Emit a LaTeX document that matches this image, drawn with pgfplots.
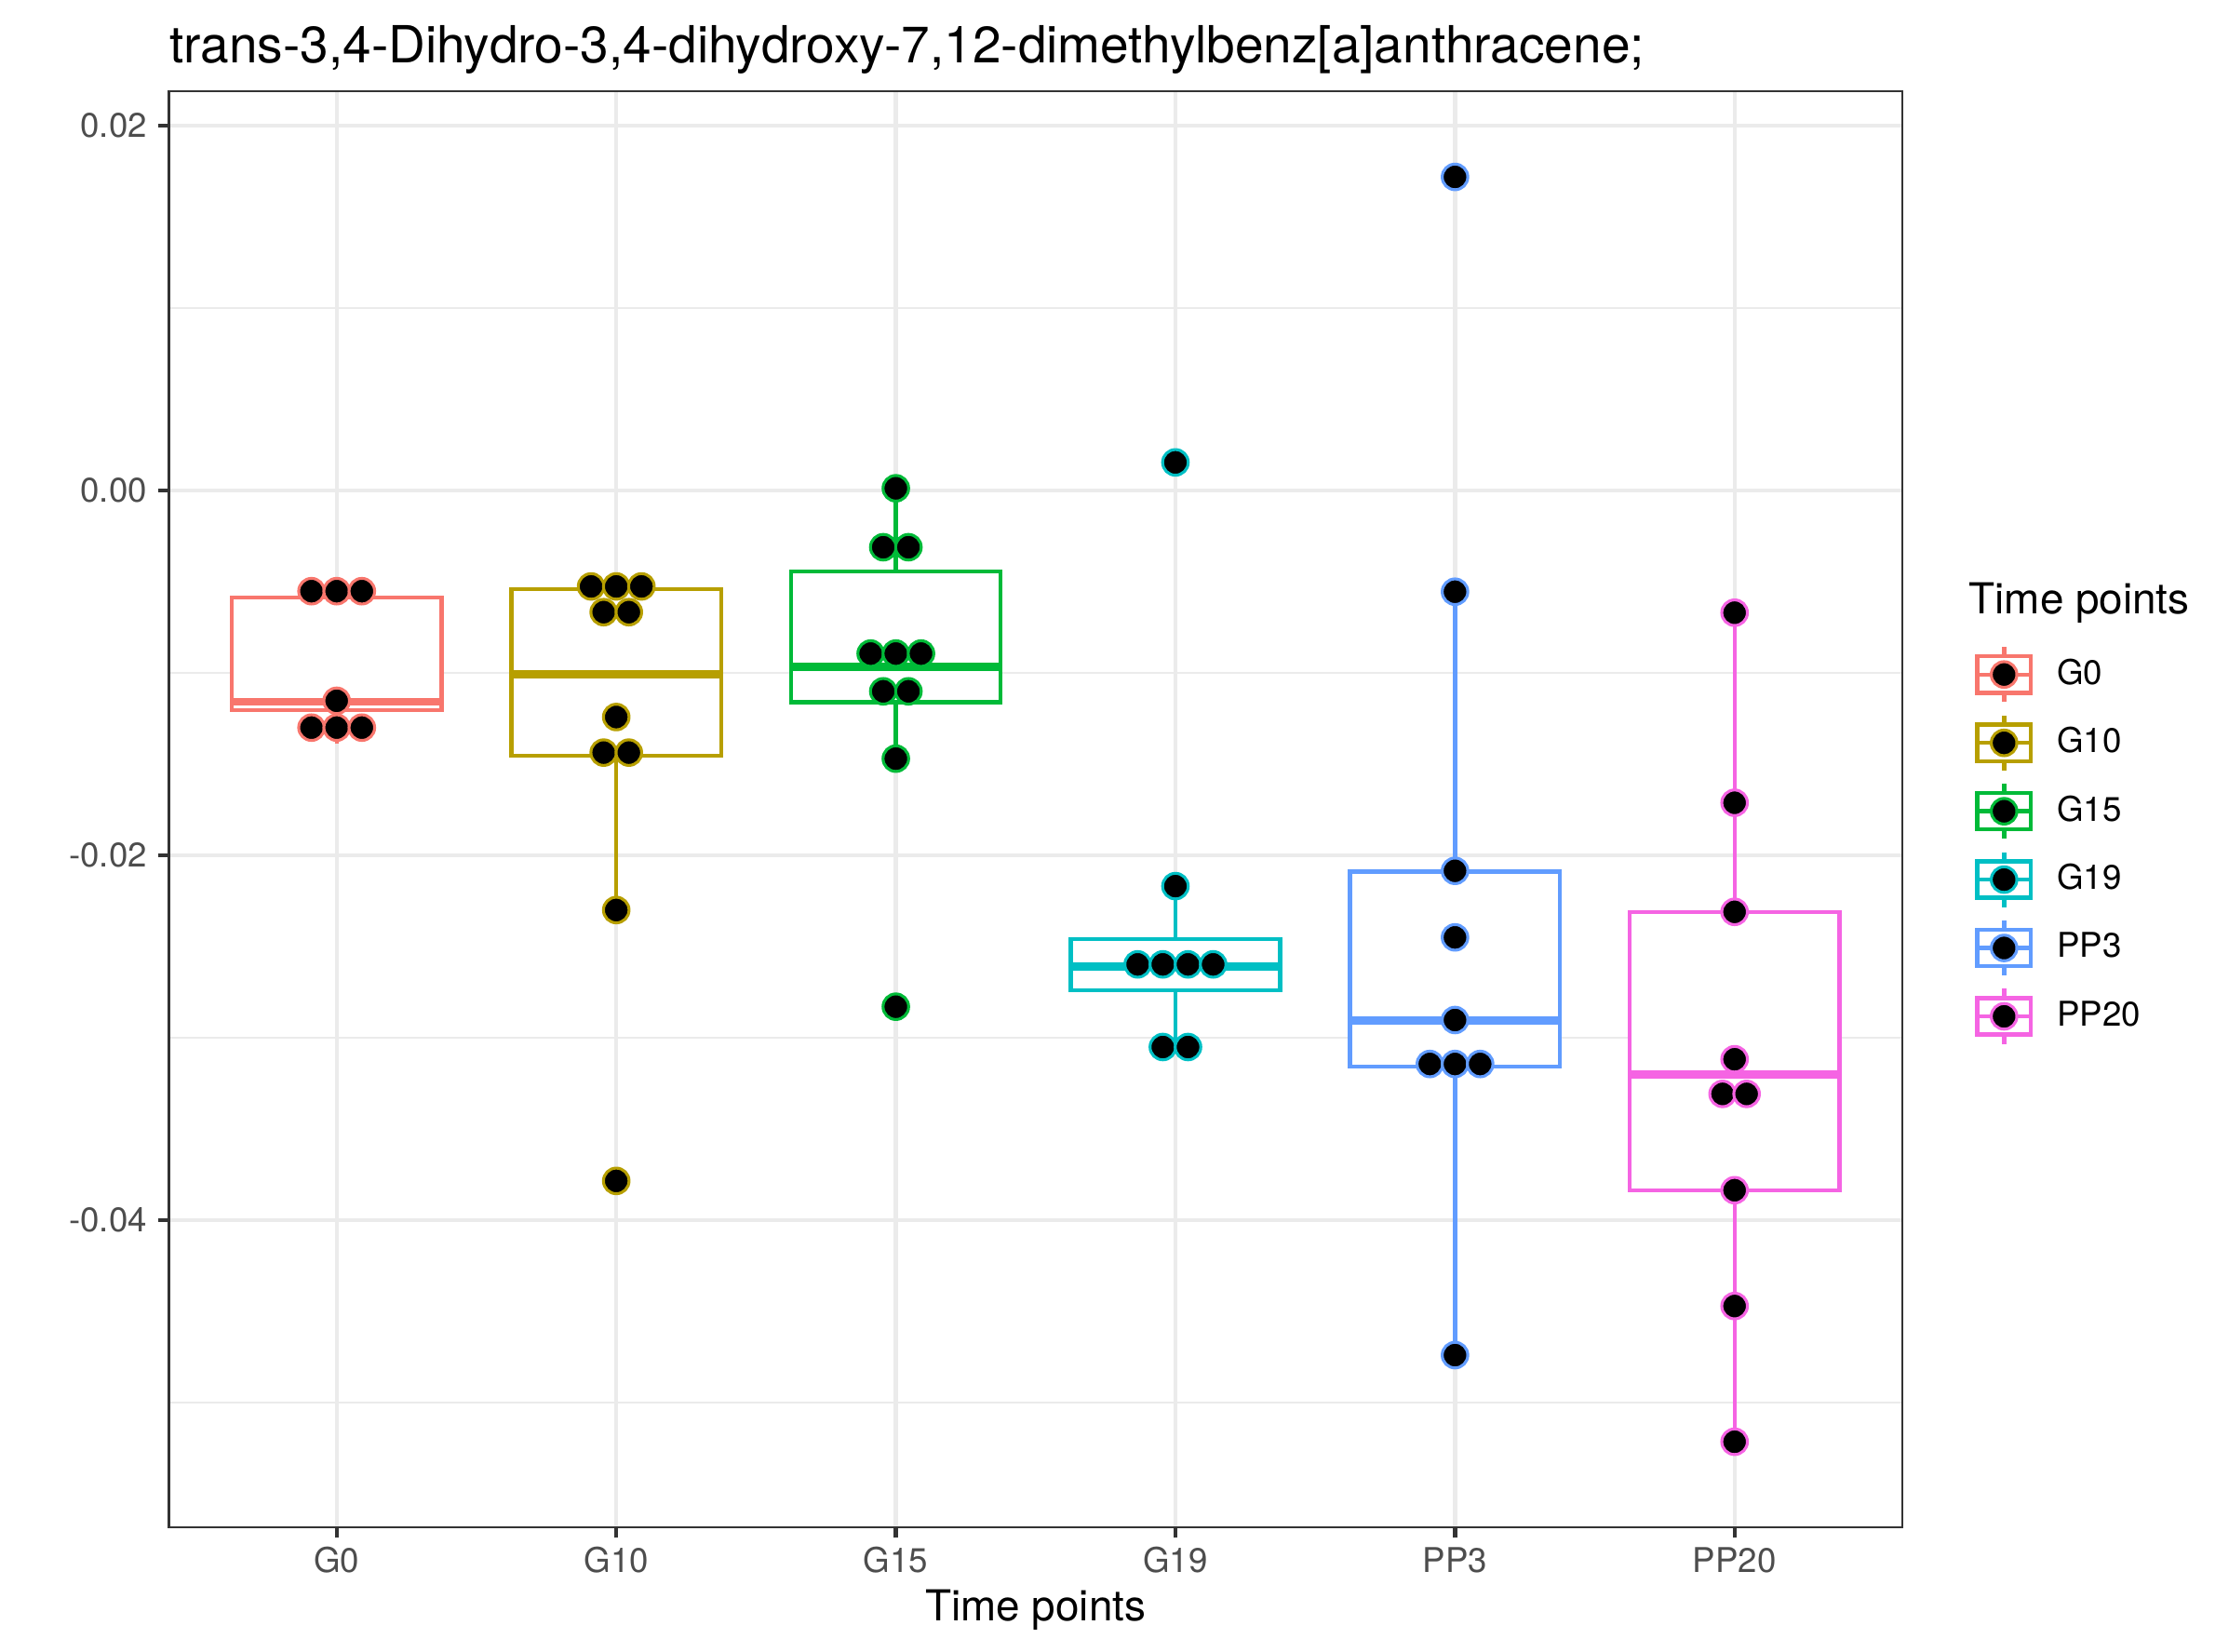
\documentclass[border=0pt]{standalone}
\usepackage{fontspec}
\setmainfont{TeX Gyre Heros}
\usepackage{pgfplots}
\pgfplotsset{compat=1.18}
\definecolor{cA}{HTML}{F8766D}
\definecolor{cB}{HTML}{B79F00}
\definecolor{cC}{HTML}{00BA38}
\definecolor{cD}{HTML}{00BFC4}
\definecolor{cE}{HTML}{619CFF}
\definecolor{cF}{HTML}{F564E3}
\definecolor{grey92}{HTML}{EBEBEB}
\definecolor{grey20}{HTML}{333333}
\definecolor{grey30}{HTML}{4D4D4D}
\pgfplotsset{
  bx/.style={forget plot, draw=#1, fill=white, line width=1.07pt, solid, mark=none, line join=miter},
  md/.style={forget plot, draw=#1, line width=2.13pt, solid, mark=none},
  wk/.style={forget plot, draw=#1, line width=1.07pt, solid, mark=none},
  dt/.style={forget plot, only marks, mark=*, mark size=3.3pt, mark options={fill=black, draw=#1, line width=0.75pt, solid}},
  legbox/.style={draw=#1, legend image code/.code={
      \path (0pt,-8.615pt) (0pt,8.615pt);
      \draw[line width=1.07pt] (6.9pt,-7.1pt) -- (6.9pt,-4.7pt) (6.9pt,4.7pt) -- (6.9pt,7.1pt);
      \draw[line width=1.07pt, fill=white] (0pt,-4.7pt) rectangle (13.8pt,4.7pt);
      \draw[line width=1.07pt] (0pt,0pt) -- (13.8pt,0pt);
      \draw[line width=0.75pt, fill=black] (6.9pt,0pt) circle (3.3pt);
  }},
}
\begin{document}
\begin{tikzpicture}
\path[use as bounding box] (-43.56pt,-31.92pt) rectangle (531.24pt,393.84pt);
\begin{axis}[
  at={(0,0)}, anchor=south west,
  scale only axis, width=447pt, height=370.32pt,
  xmin=0.4, xmax=6.6, ymin=-0.05684, ymax=0.02189,
  enlargelimits=false, clip=false,
  xtick={1,2,3,4,5,6}, xticklabels={G0,G10,G15,G19,PP3,PP20},
  ytick={-0.04,-0.02,0,0.02}, yticklabels={-0.04,-0.02,0.00,0.02},
  minor ytick={-0.05,-0.03,-0.01,0.01}, minor xtick={},
  scaled y ticks=false,
  tick pos=left, tick align=outside, major tick length=2.75pt, minor tick length=0pt,
  grid=both,
  major grid style={draw=grey92, line width=1.07pt},
  minor grid style={draw=grey92, line width=0.53pt},
  axis line style={draw=grey20, line width=0.55pt},
  major tick style={draw=grey20, line width=1.07pt},
  tick label style={font=\fontsize{8.8}{10}\selectfont, text=grey30},
  xticklabel style={anchor=base, inner sep=0pt, yshift=-8.85pt},
  yticklabel style={anchor=east, inner sep=0pt, xshift=-2.7pt},
  title={trans-3,4-Dihydro-3,4-dihydroxy-7,12-dimethylbenz[a]anthracene;},
  every axis title/.style={at={(axis description cs:0,1)}, anchor=base west, inner sep=0pt, yshift=7.2pt, font=\fontsize{13.2}{15}\selectfont},
  xlabel={Time points},
  xlabel style={at={(axis description cs:0.5,0)}, anchor=base, inner sep=0pt, yshift=-24pt, font=\fontsize{11}{13}\selectfont},
  legend style={at={(axis description cs:1,1)}, anchor=north west, xshift=18.6pt, yshift=-141.4pt,
    draw=none, fill=none, inner sep=0pt, row sep=0pt, column sep=6.2pt,
    font=\fontsize{8.8}{10}\selectfont, nodes={inner sep=0pt}},
  legend cell align=left,
]
% G0: whiskers, box, median
\addplot[wk=cA] coordinates {(1,-0.0139) (1,-0.01205)};
\addplot[wk=cA] coordinates {(1,-0.00588) (1,-0.0055)};
\addplot[bx=cA] coordinates {(0.625,-0.01205) (1.375,-0.01205) (1.375,-0.00588) (0.625,-0.00588)} -- cycle;
\addplot[md=cA] coordinates {(0.625,-0.01158) (1.375,-0.01158)};
% G10
\addplot[wk=cB] coordinates {(2,-0.0230) (2,-0.01455)};
\addplot[wk=cB] coordinates {(2,-0.00542) (2,-0.0052)};
\addplot[bx=cB] coordinates {(1.625,-0.01455) (2.375,-0.01455) (2.375,-0.00542) (1.625,-0.00542)} -- cycle;
\addplot[md=cB] coordinates {(1.625,-0.01008) (2.375,-0.01008)};
% G15
\addplot[wk=cC] coordinates {(3,-0.0147) (3,-0.01161)};
\addplot[wk=cC] coordinates {(3,-0.00445) (3,0.0001)};
\addplot[bx=cC] coordinates {(2.625,-0.01161) (3.375,-0.01161) (3.375,-0.00445) (2.625,-0.00445)} -- cycle;
\addplot[md=cC] coordinates {(2.625,-0.00967) (3.375,-0.00967)};
% G19
\addplot[wk=cD] coordinates {(4,-0.0305) (4,-0.02739)};
\addplot[wk=cD] coordinates {(4,-0.02459) (4,-0.02169)};
\addplot[bx=cD] coordinates {(3.625,-0.02739) (4.375,-0.02739) (4.375,-0.02459) (3.625,-0.02459)} -- cycle;
\addplot[md=cD] coordinates {(3.625,-0.02609) (4.375,-0.02609)};
% PP3
\addplot[wk=cE] coordinates {(5,-0.0474) (5,-0.03159)};
\addplot[wk=cE] coordinates {(5,-0.0209) (5,-0.00555)};
\addplot[bx=cE] coordinates {(4.625,-0.03159) (5.375,-0.03159) (5.375,-0.0209) (4.625,-0.0209)} -- cycle;
\addplot[md=cE] coordinates {(4.625,-0.02904) (5.375,-0.02904)};
% PP20
\addplot[wk=cF] coordinates {(6,-0.05215) (6,-0.03836)};
\addplot[wk=cF] coordinates {(6,-0.0231) (6,-0.0067)};
\addplot[bx=cF] coordinates {(5.625,-0.03836) (6.375,-0.03836) (6.375,-0.0231) (5.625,-0.0231)} -- cycle;
\addplot[md=cF] coordinates {(5.625,-0.032) (6.375,-0.032)};
% dots
\addplot[dt=cA] coordinates {(0.91,-0.00552) (1,-0.00552) (1.09,-0.00552) (1,-0.01153) (0.91,-0.013) (1,-0.013) (1.09,-0.013)};
\addplot[dt=cB] coordinates {(1.91,-0.00526) (2,-0.00526) (2.09,-0.00526) (1.955,-0.00667) (2.045,-0.00667) (2,-0.01242) (1.955,-0.01437) (2.045,-0.01437) (2,-0.0230) (2,-0.03785)};
\addplot[dt=cC] coordinates {(3,0.00012) (2.955,-0.00311) (3.045,-0.00311) (2.91,-0.00894) (3,-0.00894) (3.09,-0.00894) (2.955,-0.01101) (3.045,-0.01101) (3,-0.0147) (3,-0.0283)};
\addplot[dt=cD] coordinates {(4,0.00154) (4,-0.02169) (3.865,-0.02598) (3.955,-0.02598) (4.045,-0.02598) (4.135,-0.02598) (3.955,-0.03051) (4.045,-0.03051)};
\addplot[dt=cE] coordinates {(5,0.01719) (5,-0.00555) (5,-0.02085) (5,-0.0245) (5,-0.02903) (4.91,-0.03144) (5,-0.03144) (5.09,-0.03144) (5,-0.0474)};
\addplot[dt=cF] coordinates {(6,-0.0067) (6,-0.01712) (6,-0.0231) (6,-0.03118) (5.957,-0.03308) (6.043,-0.03308) (6,-0.03836) (6,-0.04471) (6,-0.05215)};
% legend
\addlegendimage{legbox=cA}\addlegendentry{G0}
\addlegendimage{legbox=cB}\addlegendentry{G10}
\addlegendimage{legbox=cC}\addlegendentry{G15}
\addlegendimage{legbox=cD}\addlegendentry{G19}
\addlegendimage{legbox=cE}\addlegendentry{PP3}
\addlegendimage{legbox=cF}\addlegendentry{PP20}
\node[anchor=base west, inner sep=0pt, xshift=17pt, yshift=-134.7pt, font=\fontsize{11}{13}\selectfont] at (axis description cs:1,1) {Time points};
\end{axis}
\end{tikzpicture}
\end{document}
